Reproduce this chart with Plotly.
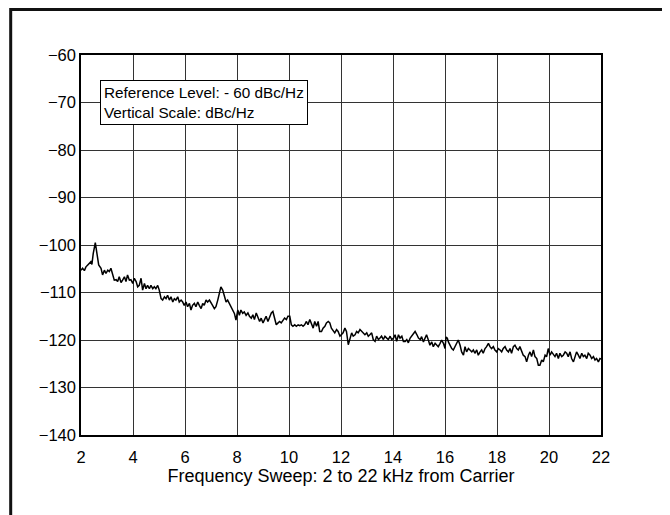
import plotly.graph_objects as go

# Frequency offset from carrier (kHz)
freq_khz = [
    2.00, 2.06, 2.13, 2.19, 2.26, 2.32, 2.38, 2.42, 2.47, 2.55, 2.62, 2.68, 2.77, 2.83, 2.90, 2.96,
    3.03, 3.09, 3.15, 3.22, 3.28, 3.35, 3.41, 3.47, 3.54, 3.60, 3.67, 3.73, 3.79, 3.86, 3.92, 3.99,
    4.05, 4.12, 4.18, 4.24, 4.31, 4.37, 4.44, 4.50, 4.56, 4.63, 4.69, 4.76, 4.82, 4.88, 4.95, 5.01,
    5.08, 5.14, 5.21, 5.27, 5.33, 5.40, 5.46, 5.53, 5.59, 5.65, 5.72, 5.78, 5.85, 5.91, 5.97, 6.04,
    6.10, 6.17, 6.23, 6.29, 6.36, 6.42, 6.49, 6.55, 6.62, 6.68, 6.74, 6.81, 6.87, 6.94, 7.00, 7.06,
    7.13, 7.19, 7.26, 7.32, 7.38, 7.45, 7.51, 7.58, 7.64, 7.71, 7.77, 7.83, 7.90, 7.96, 8.03, 8.09,
    8.15, 8.22, 8.28, 8.35,
    8.42, 8.48, 8.55, 8.61, 8.67, 8.74, 8.80, 8.87, 8.93, 9.00, 9.06, 9.12, 9.19, 9.25, 9.32, 9.38,
    9.45, 9.51, 9.58, 9.64, 9.70, 9.77, 9.83, 9.90, 9.96, 10.03, 10.09, 10.15, 10.22, 10.28, 10.35,
    10.41, 10.48, 10.54, 10.60, 10.67, 10.73, 10.80, 10.86, 10.93, 10.99, 11.06, 11.12, 11.18, 11.25,
    11.31, 11.38, 11.44, 11.51, 11.57, 11.63, 11.70, 11.76, 11.83, 11.89, 11.96, 12.02, 12.08, 12.15,
    12.21, 12.28, 12.34, 12.41, 12.47, 12.54, 12.60, 12.66, 12.73, 12.79, 12.86, 12.92, 12.99, 13.05,
    13.11, 13.18, 13.24, 13.31, 13.37, 13.44, 13.50, 13.56, 13.63, 13.69, 13.76, 13.82, 13.89, 13.95,
    14.02, 14.08, 14.14, 14.21, 14.27, 14.34, 14.40, 14.47, 14.53, 14.59, 14.66, 14.72, 14.79, 14.85,
    14.92, 14.98, 15.05,
    15.10, 15.17, 15.23, 15.29, 15.36, 15.42, 15.49, 15.55, 15.62, 15.68, 15.74, 15.81, 15.87, 15.94,
    16.00, 16.04, 16.09, 16.13, 16.19, 16.26, 16.32, 16.38, 16.45, 16.51, 16.58, 16.64, 16.71, 16.77,
    16.83, 16.90, 16.96, 17.03, 17.09, 17.15, 17.22, 17.28, 17.35, 17.41, 17.47, 17.54, 17.60, 17.67,
    17.73, 17.79, 17.86, 17.92, 17.99, 18.05, 18.12, 18.18, 18.24, 18.31, 18.37, 18.44, 18.50, 18.56,
    18.63, 18.69, 18.76, 18.82, 18.88, 18.95, 19.01, 19.08, 19.14, 19.21, 19.27, 19.33, 19.40, 19.46,
    19.53, 19.59, 19.65, 19.72, 19.78, 19.85, 19.91, 19.97, 20.04, 20.10, 20.17, 20.23, 20.29, 20.36,
    20.42, 20.49, 20.55, 20.62, 20.68, 20.74, 20.81, 20.87, 20.94, 21.00, 21.06, 21.13, 21.19, 21.26,
    21.32, 21.38, 21.45, 21.51, 21.58, 21.64, 21.71, 21.77, 21.83, 21.90, 21.96, 22.00,
]

# Phase noise level (dBc/Hz)
level_dbc = [
    -105.3, -104.9, -105.4, -104.6, -104.2, -103.9, -103.5, -104.1, -101.8, -99.5, -101.8, -104.2, -104.9, -106.3, -105.3, -106.0,
    -105.3, -105.6, -104.9, -106.0, -107.4, -107.3, -107.7, -106.7, -107.9, -107.4, -106.7, -107.7, -106.3, -107.4, -107.3, -108.1,
    -107.0, -107.7, -108.8, -108.5, -107.0, -109.5, -108.1, -109.2, -108.5, -109.2, -108.5, -109.2, -108.8, -109.2, -108.5, -109.5,
    -111.3, -111.6, -110.9, -111.3, -110.6, -111.6, -110.9, -112.0, -111.3, -111.6, -110.9, -112.0, -111.6, -112.0, -112.7, -112.0,
    -113.0, -112.3, -113.7, -112.7, -112.3, -113.0, -112.0, -112.7, -113.4, -112.3, -112.7, -111.6, -112.0, -111.6, -112.3, -112.7,
    -113.4, -113.0, -111.6, -109.9, -108.8, -109.5, -110.9, -112.0, -111.6, -112.3, -113.0, -113.7, -114.4, -115.8, -113.7, -114.8,
    -113.7, -114.4, -114.1, -114.8,
    -114.3, -115.0, -115.4, -114.7, -115.7, -114.3, -115.0, -116.1, -115.4, -116.4, -115.7, -115.0, -116.1, -115.4, -114.3, -114.0,
    -115.7, -116.8, -116.4, -116.1, -116.4, -115.7, -115.4, -115.7, -115.0, -115.0, -116.8, -117.1, -116.8, -117.1, -116.8,
    -117.0, -116.8, -117.1, -116.8, -116.1, -116.8, -115.7, -116.4, -117.5, -116.1, -117.1, -116.1, -118.2, -118.2,
    -117.5, -117.1, -116.4, -116.1, -116.4, -117.5, -118.2, -118.5, -117.8, -118.2, -119.2, -118.9, -118.5, -117.5,
    -118.2, -121.0, -119.6, -118.5, -119.2, -118.9, -118.2, -118.5, -117.8, -118.2, -118.5, -118.9, -118.5, -119.2,
    -118.9, -118.5, -119.9, -120.3, -119.2, -119.9, -119.6, -119.2, -119.9, -119.2, -119.6, -119.9, -119.2, -119.9,
    -119.6, -118.9, -120.3, -118.9, -119.6, -119.2, -120.3, -120.3, -119.9, -120.6, -119.6, -119.2, -118.5, -118.2,
    -118.9, -119.6, -119.9,
    -119.3, -120.4, -119.6, -118.9, -120.0, -121.1, -120.4, -121.4, -120.7, -121.1, -121.4, -120.7, -120.0, -120.7,
    -121.8, -119.4, -119.6, -120.4, -121.1, -121.8, -122.1, -121.4, -120.7, -120.0, -121.1, -122.5, -123.2, -121.4,
    -122.5, -121.8, -122.1, -122.5, -122.1, -122.8, -122.1, -123.2, -122.5, -122.1, -122.8, -121.8, -121.4, -120.7,
    -121.4, -121.8, -121.4, -122.1, -122.5, -121.8, -122.1, -122.5, -121.8, -121.4, -122.1, -122.5, -121.8, -122.8,
    -121.4, -121.1, -121.8, -122.1, -121.4, -122.5, -123.2, -123.5, -124.6, -123.2, -122.5, -123.5, -122.1, -123.5,
    -123.9, -125.3, -125.3, -124.2, -124.6, -123.2, -123.5, -121.8, -123.2, -122.5, -123.2, -123.5, -122.8, -123.9,
    -122.8, -123.5, -123.2, -122.5, -122.8, -123.5, -122.5, -123.9, -124.6, -123.5, -122.5, -123.2, -123.9, -122.8,
    -123.5, -123.2, -123.9, -122.8, -123.2, -123.9, -123.5, -124.2, -123.9, -124.6, -123.9, -124.0,
]

x_ticks = [2, 4, 6, 8, 10, 12, 14, 16, 18, 20, 22]
y_ticks = [-140, -130, -120, -110, -100, -90, -80, -70, -60]

x_title = "Frequency Sweep: 2 to 22 kHz from Carrier"
note_text = "Reference Level: - 60 dBc/Hz<br>Vertical Scale: dBc/Hz"

FONT = "Liberation Sans, Arial, Helvetica, sans-serif"

fig = go.Figure()
fig.add_trace(go.Scatter(
    x=freq_khz, y=level_dbc, mode="lines",
    line=dict(color="black", width=1.5),
    hoverinfo="skip", showlegend=False,
))

fig.update_layout(
    width=670, height=515,
    margin=dict(l=73, r=77, t=47, b=88, autoexpand=False),
    paper_bgcolor="white", plot_bgcolor="white",
    font=dict(family=FONT, size=16, color="black"),
    showlegend=False,
    xaxis=dict(
        range=[2, 22], tickvals=x_ticks, ticktext=[str(v) for v in x_ticks],
        showgrid=True, gridcolor="#333333", gridwidth=1,
        showline=True, linecolor="black", linewidth=1.5, mirror=True,
        ticks="", ticklabelstandoff=6, zeroline=False,
        title=dict(text=x_title, font=dict(size=18), standoff=1),
        tickfont=dict(size=16.5),
    ),
    yaxis=dict(
        range=[-140, -60], tickvals=y_ticks,
        showgrid=True, gridcolor="#333333", gridwidth=1,
        showline=True, linecolor="black", linewidth=1.5, mirror=True,
        ticks="", ticklabelstandoff=0, zeroline=False,
        tickfont=dict(size=16.5),
    ),
    annotations=[dict(
        xref="paper", yref="paper", x=0.0365, y=0.934,
        xanchor="left", yanchor="top", align="left",
        text=note_text, showarrow=False,
        font=dict(size=15.3, color="black", family=FONT),
        bgcolor="white", bordercolor="black", borderwidth=1, borderpad=3,
    )],
    shapes=[dict(
        type="rect", xref="paper", yref="paper",
        x0=-0.1352, x1=1.1221, y0=-0.26, y1=1.1197,
        line=dict(color="#111111", width=3), layer="above",
    )],
)

fig.write_html("out.html")
